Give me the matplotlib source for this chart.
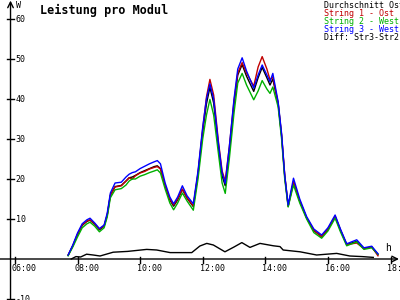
import numpy as np
from matplotlib import pyplot as plt

# time in decimal hours
t = [7.70, 7.85, 8.00, 8.15, 8.30, 8.40, 8.55, 8.70, 8.85, 8.95,
     9.05, 9.20, 9.40, 9.55, 9.65, 9.75, 9.85, 10.00, 10.15, 10.30,
     10.45, 10.55, 10.65, 10.80, 10.95, 11.07, 11.20, 11.35, 11.50, 11.70,
     11.85, 12.00, 12.12, 12.23, 12.35, 12.50, 12.62, 12.72, 12.85, 13.00,
     13.12, 13.26, 13.40, 13.63, 13.77, 13.90, 14.05, 14.15, 14.24, 14.41,
     14.52, 14.62, 14.73, 14.90, 15.10, 15.32, 15.55, 15.80, 16.00, 16.23,
     16.40, 16.60, 16.92, 17.15, 17.40, 17.60]

str1 = [1.0, 3.3, 6.2, 8.5, 9.5, 9.8, 8.8, 7.5, 8.3, 11.0,
        16.0, 18.0, 18.3, 19.5, 20.3, 20.0, 20.8, 21.5, 21.9, 22.5,
        22.9, 23.1, 22.5, 18.5, 15.0, 13.5, 15.0, 17.5, 15.3, 13.3,
        21.5, 32.5, 40.5, 44.9, 41.0, 29.5, 22.0, 19.5, 28.0, 39.5,
        46.5, 49.1, 46.5, 43.2, 48.0, 50.6, 47.5, 44.8, 45.5, 39.0,
        31.0, 21.0, 13.2, 19.3, 14.5, 10.3, 7.2, 5.6, 7.5, 10.7,
        7.3, 3.6, 4.0, 2.6, 3.0, 0.8]
str2 = [0.8, 3.0, 5.5, 7.8, 8.8, 9.2, 8.2, 6.8, 7.8, 10.5,
        15.3, 17.3, 17.6, 18.5, 19.5, 20.0, 20.0, 20.7, 21.1, 21.6,
        22.0, 22.3, 21.5, 17.5, 14.0, 12.3, 14.0, 16.5, 14.5, 12.2,
        20.0, 30.0, 36.0, 39.9, 36.0, 26.5, 19.0, 16.4, 25.0, 36.5,
        44.0, 46.4, 43.5, 39.8, 42.0, 44.6, 42.5, 41.4, 43.0, 38.0,
        30.0, 20.0, 13.0, 18.5, 14.0, 10.0, 6.6, 5.2, 7.0, 10.2,
        6.8, 3.3, 4.3, 2.4, 2.8, 1.2]
str3 = [1.0, 3.5, 6.5, 8.8, 9.8, 10.2, 9.0, 7.6, 8.5, 11.5,
        16.5, 19.0, 19.2, 20.5, 21.2, 21.6, 21.8, 22.6, 23.2, 23.8,
        24.3, 24.6, 23.8, 19.0, 15.5, 13.8, 15.5, 18.3, 15.8, 13.8,
        22.0, 33.0, 40.0, 43.8, 40.0, 29.0, 21.5, 18.9, 28.0, 40.0,
        47.5, 50.3, 47.0, 42.7, 46.0, 48.5, 46.0, 44.3, 46.4, 39.3,
        31.4, 21.0, 13.5, 20.2, 15.0, 10.6, 7.5, 6.0, 7.8, 11.0,
        7.5, 3.8, 4.8, 2.8, 3.2, 1.3]
avg = [0.9, 3.3, 6.1, 8.4, 9.4, 9.7, 8.7, 7.3, 8.2, 11.0,
       15.9, 18.1, 18.4, 19.5, 20.3, 20.5, 20.9, 21.6, 22.1, 22.6,
       23.1, 23.3, 22.6, 18.3, 14.8, 13.2, 14.8, 17.4, 15.2, 13.1,
       21.2, 31.8, 38.8, 42.9, 39.0, 28.3, 20.8, 18.3, 27.0, 38.7,
       46.0, 48.6, 45.7, 41.9, 45.3, 47.9, 45.3, 43.5, 45.0, 38.8,
       30.8, 20.7, 13.2, 19.3, 14.5, 10.3, 7.1, 5.6, 7.4, 10.6,
       7.2, 3.6, 4.4, 2.6, 3.0, 1.1]

t_diff = [7.80, 7.95, 8.10, 8.29, 8.50, 8.72, 9.14, 9.60, 10.21, 10.53,
          10.96, 11.30, 11.65, 11.91, 12.13, 12.34, 12.71, 13.00, 13.25, 13.51,
          13.83, 14.26, 14.47, 14.57, 15.11, 15.64, 16.28, 16.70, 17.10, 17.45]
diff = [0.0, 0.6, 0.5, 1.2, 1.0, 0.75, 1.7, 1.9, 2.4, 2.25,
        1.6, 1.6, 1.6, 3.25, 3.9, 3.5, 1.8, 3.0, 4.1, 2.9,
        3.9, 3.3, 3.1, 2.25, 1.8, 1.0, 1.4, 0.75, 0.6, 0.4]

legend = [('Durchschnitt Ost', 'black'),
          ('String 1 - Ost', '#c00000'),
          ('String 2 - West', '#00b000'),
          ('String 3 - West', '#0000ff'),
          ('Diff: Str3-Str2', 'black')]

hours = [6, 8, 10, 12, 14, 16, 18]
yticks = [-10, 10, 20, 30, 40, 50, 60]

mono = 'DejaVu Sans Mono'

fig = plt.figure(figsize=(4, 3), dpi=100)
ax = fig.add_axes([0, 0, 1, 1])
ax.set_xlim(5.524, 18.303)
ax.set_ylim(-10.25, 64.75)
ax.axis('off')

lw = 1.0
ax.plot(t, avg, color='black', lw=lw)
ax.plot(t, str1, color=legend[1][1], lw=lw)
ax.plot(t, str2, color=legend[2][1], lw=lw)
ax.plot(t, str3, color=legend[3][1], lw=lw)
ax.plot(t_diff, diff, color='black', lw=lw)

# axes with arrows
x0 = 5.86
ax.annotate('', xy=(x0, 64.6), xytext=(x0, -10.3),
            arrowprops=dict(arrowstyle='->', lw=1, color='black', shrinkA=0, shrinkB=0))
ax.annotate('', xy=(18.27, 0), xytext=(5.5, 0),
            arrowprops=dict(arrowstyle='->', lw=1, color='black', shrinkA=0, shrinkB=0))

for v in yticks:
    ax.plot([x0 - 0.1, x0 + 0.1], [v, v], color='black', lw=1)
    ax.text(x0 + 0.16, v, str(v), fontsize=6, family=mono, va='center', ha='left')

for h in hours:
    ax.plot([h, h], [-1.0, 0.4], color='black', lw=1)
    ax.text(h - 0.1, -1.2, '%02d:00' % h, fontsize=6, family=mono, va='top', ha='left')

ax.text(x0 + 0.16, 64.4, 'W', fontsize=6, family=mono, va='top', ha='left')
ax.text(17.82, 2.8, 'h', fontsize=7, family=mono, va='center', ha='left')

fig.text(40 / 400, 1 - 10 / 300, 'Leistung pro Modul', fontsize=8.5, family=mono,
         weight='bold', va='center', ha='left')

for i, (label, col) in enumerate(legend):
    fig.text(324 / 400, 1 - (5 + 8 * i) / 300, label, fontsize=6, family=mono,
             color=col, va='center', ha='left')

fig.savefig('out.png', dpi=100)
